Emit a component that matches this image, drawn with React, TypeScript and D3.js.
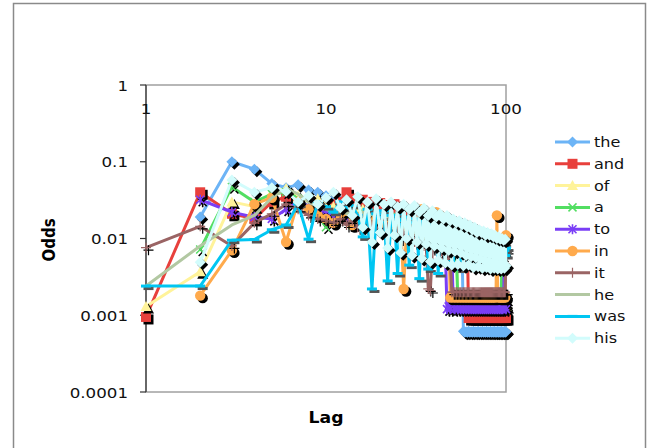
import React from "react";
import * as d3 from "d3";

// ---- data (lag 1..100, odds; null = no value) ----
const SERIES_NAMES = ["the", "and", "of", "a", "to", "in", "it", "he", "was", "his"];
const Y_TICKS = [1, 0.1, 0.01, 0.001, 0.0001];
const Y_TICK_LABELS = ["1", "0.1", "0.01", "0.001", "0.0001"];
const X_TICKS = [1, 10, 100];
const X_TICK_LABELS = ["1", "10", "100"];

const the = [
  null, 0.019, 0.10, 0.080, 0.052, 0.046, 0.050, 0.043, 0.040, 0.036,
  0.034, 0.031, 0.033, 0.029, 0.028, 0.029, 0.026, 0.025, 0.026, 0.023,
  0.022, 0.023, 0.021, 0.020, 0.021, 0.019, 0.018, 0.019, 0.017, 0.018,
  0.016, 0.017, 0.015, 0.016, 0.014, 0.015, 0.014, 0.013, 0.014, 0.013,
  0.012, 0.013, 0.012, 0.011, 0.012, 0.011, 0.010, 0.011, 0.010, 0.0105,
  0.0095, 0.010, 0.009, 0.0095, 0.0085, 0.009, 0.0085, 0.00062, 0.0006, 0.00061,
  0.0006, 0.00062, 0.0006, 0.00061, 0.0006, 0.00062, 0.0006, 0.00061, 0.0006, 0.00062,
  0.0006, 0.00061, 0.0006, 0.00062, 0.0006, 0.00061, 0.0006, 0.00062, 0.0006, 0.00061,
  0.0006, 0.00062, 0.0006, 0.00061, 0.0006, 0.00062, 0.0006, 0.00061, 0.0006, 0.00062,
  0.0006, 0.00061, 0.0006, 0.00062, 0.0006, 0.00061, 0.0006, 0.00062, 0.0006, 0.00061,
];
const and = [
  0.00095, 0.040, 0.021, 0.018, 0.030, 0.035, 0.031, 0.028, 0.027, 0.025,
  0.028, 0.030, 0.040, 0.033, 0.031, 0.032, 0.030, 0.029, 0.028, 0.029,
  0.027, 0.026, 0.027, 0.028, 0.025, 0.024, 0.022, 0.021, 0.022, 0.020,
  0.019, 0.020, 0.018, 0.019, 0.017, 0.018, 0.016, 0.017, 0.016, 0.015,
  0.015, 0.014, 0.014, 0.013, 0.014, 0.013, 0.012, 0.013, 0.012, 0.012,
  0.011, 0.012, 0.011, 0.010, 0.011, 0.010, 0.0105, 0.010, 0.0095, 0.010,
  0.009, 0.00092, 0.00093, 0.00092, 0.00094, 0.00092, 0.00093, 0.00092, 0.00094, 0.00092,
  0.00093, 0.00092, 0.00094, 0.00092, 0.00093, 0.00092, 0.00094, 0.00092, 0.00093, 0.00092,
  0.00094, 0.00092, 0.00093, 0.00092, 0.00094, 0.00092, 0.00093, 0.00092, 0.00094, 0.00092,
  0.00093, 0.00092, 0.00094, 0.00092, 0.00093, 0.00092, 0.00094, 0.00092, 0.00093, 0.00092,
];
const of = [
  0.0013, 0.0037, 0.030, 0.026, 0.040, 0.045, 0.036, 0.031, 0.033, 0.028,
  0.026, 0.027, 0.024, 0.025, 0.023, 0.024, 0.022, 0.021, 0.022, 0.020,
  0.021, 0.019, 0.020, 0.018, 0.019, 0.017, 0.018, 0.016, 0.017, 0.015,
  0.016, 0.015, 0.014, 0.015, 0.013, 0.014, 0.013, 0.012, 0.013, 0.012,
  0.011, 0.012, 0.011, 0.010, 0.011, 0.010, 0.0095, 0.010, 0.009, 0.0095,
  0.009, 0.0085, 0.009, 0.0013, 0.0014, 0.0013, 0.0014, 0.0013, 0.0014, 0.0013,
  0.0014, 0.0013, 0.0014, 0.0013, 0.0014, 0.0013, 0.0014, 0.0013, 0.0014, 0.0013,
  0.0014, 0.0013, 0.0014, 0.0013, 0.0014, 0.0013, 0.0014, 0.0013, 0.0014, 0.0013,
  0.0014, 0.0013, 0.0014, 0.0013, 0.0014, 0.0013, 0.0014, 0.0013, 0.0014, 0.0013,
  0.0014, 0.0013, 0.0014, 0.0013, 0.0014, 0.0013, 0.0014, 0.0013, 0.0014, 0.0013,
];
const a = [
  null, 0.0072, 0.047, 0.030, 0.038, 0.040, 0.033, 0.026, 0.022, 0.014,
  0.020, 0.018, 0.024, 0.015, 0.021, 0.019, 0.016, 0.022, 0.014, 0.018,
  0.017, 0.015, 0.019, 0.013, 0.016, 0.014, 0.012, 0.015, 0.011, 0.013,
  0.012, 0.010, 0.013, 0.011, 0.009, 0.012, 0.010, 0.011, 0.008, 0.010,
  0.009, 0.010, 0.0085, 0.009, 0.008, 0.0095, 0.0075, 0.0085, 0.008, 0.007,
  0.0075, 0.007, 0.0065, 0.0016, 0.0015, 0.0016, 0.0015, 0.0016, 0.0015, 0.0016,
  0.0015, 0.0016, 0.0015, 0.0016, 0.0015, 0.0016, 0.0015, 0.0016, 0.0015, 0.0016,
  0.0015, 0.0016, 0.0015, 0.0016, 0.0015, 0.0016, 0.0015, 0.0016, 0.0015, 0.0016,
  0.0015, 0.0016, 0.0015, 0.0016, 0.0015, 0.0016, 0.0015, 0.0016, 0.0015, 0.0016,
  0.0015, 0.0016, 0.0015, 0.0016, 0.0060, 0.0016, 0.0015, 0.0016, 0.0015, 0.0016,
];
const to = [
  null, 0.032, 0.022, 0.019, 0.018, 0.024, 0.030, 0.026, 0.021, 0.023,
  0.019, 0.021, 0.018, 0.020, 0.017, 0.019, 0.022, 0.016, 0.018, 0.015,
  0.017, 0.014, 0.016, 0.018, 0.013, 0.015, 0.017, 0.012, 0.014, 0.013,
  0.012, 0.014, 0.011, 0.013, 0.010, 0.012, 0.011, 0.009, 0.011, 0.010,
  0.009, 0.011, 0.008, 0.010, 0.0085, 0.0075, 0.0012, 0.0013, 0.0012, 0.0070,
  0.0013, 0.0012, 0.0013, 0.0012, 0.0013, 0.0012, 0.0013, 0.0012, 0.0013, 0.0012,
  0.0013, 0.0012, 0.0013, 0.0012, 0.0013, 0.0012, 0.0013, 0.0012, 0.0013, 0.0012,
  0.0013, 0.0012, 0.0013, 0.0012, 0.0013, 0.0012, 0.0013, 0.0012, 0.0013, 0.0012,
  0.0013, 0.0012, 0.0013, 0.0012, 0.0013, 0.0012, 0.0013, 0.0012, 0.0013, 0.0012,
  0.0013, 0.0012, 0.0013, 0.0012, 0.0013, 0.0012, 0.0013, 0.0070, 0.0013, 0.0012,
];
const inn = [
  null, 0.0018, 0.0070, 0.028, 0.034, 0.0090, 0.030, 0.024, 0.020, 0.018,
  0.016, 0.021, 0.023, 0.015, 0.019, 0.017, 0.022, 0.014, 0.018, 0.020,
  0.016, 0.019, 0.015, 0.018, 0.014, 0.017, 0.0022, 0.013, 0.016, 0.014,
  0.015, 0.013, 0.017, 0.024, 0.014, 0.012, 0.015, 0.013, 0.011, 0.014,
  0.022, 0.013, 0.020, 0.012, 0.011, 0.013, 0.010, 0.012, 0.0017, 0.0018,
  0.0017, 0.0018, 0.0017, 0.0018, 0.0017, 0.0018, 0.0017, 0.0018, 0.0017, 0.0018,
  0.0017, 0.0018, 0.0017, 0.0018, 0.0017, 0.0018, 0.0017, 0.0018, 0.0017, 0.0018,
  0.0017, 0.0018, 0.0017, 0.0018, 0.0017, 0.0018, 0.0017, 0.0018, 0.0017, 0.0018,
  0.0017, 0.0018, 0.0017, 0.0018, 0.0017, 0.0018, 0.0017, 0.0018, 0.020, 0.0018,
  0.0017, 0.0018, 0.0017, 0.0018, 0.0017, 0.0018, 0.0017, 0.0018, 0.0017, 0.011,
];
const it = [
  0.0076, 0.0144, 0.0080, 0.016, 0.021, 0.028, 0.024, 0.020, 0.018, 0.017,
  0.016, 0.018, 0.015, 0.017, 0.014, 0.016, 0.013, 0.015, 0.014, 0.012,
  0.013, 0.014, 0.012, 0.011, 0.013, 0.010, 0.012, 0.011, 0.0095, 0.010,
  0.009, 0.011, 0.0085, 0.0095, 0.008, 0.009, 0.0022, 0.0021, 0.0075, 0.008,
  0.007, 0.0075, 0.0065, 0.007, 0.006, 0.0065, 0.0055, 0.006, 0.0052, 0.0020,
  0.0020, 0.0020, 0.0020, 0.0020, 0.0020, 0.0020, 0.0020, 0.0020, 0.0020, 0.0020,
  0.0020, 0.0020, 0.0020, 0.0020, 0.0020, 0.0020, 0.0020, 0.0020, 0.0020, 0.0020,
  0.0020, 0.0020, 0.0020, 0.0020, 0.0020, 0.0020, 0.0020, 0.0020, 0.0020, 0.0020,
  0.0020, 0.0020, 0.0020, 0.0020, 0.0020, 0.0020, 0.0020, 0.0020, 0.0020, 0.0020,
  0.0020, 0.0020, 0.0020, 0.0020, 0.0020, 0.0020, 0.0020, 0.0020, 0.0020, 0.0068,
];
const he = [
  0.0024, 0.0080, 0.015, 0.020, 0.034, 0.045, 0.038, 0.030, 0.026, 0.024,
  0.022, 0.024, 0.021, 0.023, 0.020, 0.022, 0.019, 0.021, 0.018, 0.020,
  0.017, 0.019, 0.016, 0.018, 0.015, 0.017, 0.014, 0.016, 0.013, 0.015,
  0.012, 0.014, 0.011, 0.013, 0.010, 0.012, 0.0095, 0.011, 0.009, 0.010,
  0.0085, 0.0095, 0.008, 0.009, 0.0075, 0.0085, 0.007, 0.008, 0.0068, 0.0075,
  0.0065, 0.0072, 0.0062, 0.0068, 0.0060, 0.0066, 0.0058, 0.0063, 0.0057, 0.0061,
  0.0055, 0.0059, 0.0054, 0.0058, 0.0052, 0.0056, 0.0051, 0.0055, 0.0050, 0.0053,
  0.0049, 0.0052, 0.0048, 0.0051, 0.0047, 0.0050, 0.0046, 0.0049, 0.0045, 0.0048,
  0.0044, 0.0047, 0.0043, 0.0046, 0.0042, 0.0045, 0.0041, 0.0044, 0.0040, 0.0043,
  0.0039, 0.0042, 0.0038, 0.0041, 0.0037, 0.0040, 0.0036, 0.0039, 0.0035, 0.0038,
];
const was = [
  0.0024, 0.0024, 0.0095, 0.0097, 0.013, 0.015, 0.028, 0.0098, 0.030, 0.026,
  0.022, 0.030, 0.025, 0.027, 0.020, 0.0105, 0.024, 0.0022, 0.021, 0.019,
  0.023, 0.0028, 0.020, 0.018, 0.0035, 0.021, 0.017, 0.019, 0.0045, 0.016,
  0.018, 0.015, 0.0030, 0.017, 0.014, 0.016, 0.0040, 0.013, 0.015, 0.012,
  0.014, 0.0035, 0.013, 0.011, 0.012, 0.0050, 0.011, 0.013, 0.010, 0.012,
  0.0045, 0.011, 0.009, 0.012, 0.010, 0.0040, 0.011, 0.0095, 0.010, 0.0055,
  0.0095, 0.011, 0.0085, 0.0050, 0.010, 0.009, 0.0095, 0.0045, 0.009, 0.0085,
  0.0095, 0.0060, 0.008, 0.009, 0.0085, 0.0050, 0.0095, 0.008, 0.0085, 0.0055,
  0.008, 0.009, 0.0075, 0.0085, 0.0050, 0.008, 0.0075, 0.009, 0.0060, 0.008,
  0.0085, 0.0070, 0.0055, 0.008, 0.0075, 0.0065, 0.0085, 0.007, 0.0060, 0.0075,
];
const his = [
  null, 0.0049, 0.058, 0.040, 0.046, 0.041, 0.030, 0.036, 0.028, 0.034,
  0.040, 0.025, 0.032, 0.020, 0.035, 0.014, 0.030, 0.009, 0.033, 0.012,
  0.028, 0.0075, 0.030, 0.011, 0.026, 0.0065, 0.028, 0.010, 0.024, 0.0060,
  0.027, 0.009, 0.022, 0.0055, 0.025, 0.0085, 0.020, 0.005, 0.023, 0.008,
  0.019, 0.0052, 0.021, 0.0075, 0.018, 0.0048, 0.020, 0.007, 0.017, 0.0045,
  0.018, 0.0068, 0.016, 0.0046, 0.017, 0.0065, 0.015, 0.0044, 0.016, 0.006,
  0.014, 0.0045, 0.015, 0.0058, 0.013, 0.0042, 0.014, 0.0056, 0.012, 0.0043,
  0.013, 0.0054, 0.012, 0.0041, 0.0125, 0.0052, 0.011, 0.0042, 0.012, 0.005,
  0.011, 0.0040, 0.0115, 0.0048, 0.0105, 0.0041, 0.011, 0.0047, 0.010, 0.0040,
  0.0105, 0.0046, 0.0098, 0.0040, 0.010, 0.0045, 0.0095, 0.0041, 0.0098, 0.0044,
];

const SERIES_VALUES = [the, and, of, a, to, inn, it, he, was, his];
const COLORS = ["#6cb4f6", "#e8403c", "#fff39a", "#52de62", "#7a3ef6", "#ffaa4c", "#9a6464", "#b2c8a2", "#00c6f2", "#d2fcfc"];
const MARKERS = ["diamond", "square", "triangle", "x", "star", "circle", "plus", "none", "dash", "diamond"];

const W = 647, H = 448;
const PL = 146, PR = 506, PT = 85, PB = 392;
const FONT = "'DejaVu Sans', Verdana, sans-serif";
const SX = 1.15;

function Marker({ type, x, y, color, shadow }: { type: string; x: number; y: number; color: string; shadow?: boolean }) {
  const c = shadow ? "#000" : color;
  const dx = shadow ? 2.5 : 0, dy = shadow ? 2.5 : 0;
  const X = x + dx, Y = y + dy;
  switch (type) {
    case "diamond":
      return <path d={`M${X},${Y - 5.5}L${X + 5.5},${Y}L${X},${Y + 5.5}L${X - 5.5},${Y}Z`} fill={c} />;
    case "square":
      return <rect x={X - 5} y={Y - 5} width={10} height={10} fill={c} />;
    case "triangle":
      return <path d={`M${X},${Y - 5.5}L${X + 5.5},${Y + 4.5}L${X - 5.5},${Y + 4.5}Z`} fill={c} />;
    case "circle":
      return <circle cx={X} cy={Y} r={5.2} fill={c} />;
    case "x":
      return <path d={`M${X - 4},${Y - 4}L${X + 4},${Y + 4}M${X - 4},${Y + 4}L${X + 4},${Y - 4}`} stroke={c} strokeWidth={1.5} />;
    case "star":
      return <path d={`M${X - 4},${Y - 4}L${X + 4},${Y + 4}M${X - 4},${Y + 4}L${X + 4},${Y - 4}M${X},${Y - 5}L${X},${Y + 5}`} stroke={c} strokeWidth={1.6} />;
    case "plus":
      return <path d={`M${X - 5},${Y}L${X + 5},${Y}M${X},${Y - 5}L${X},${Y + 5}`} stroke={c} strokeWidth={1.2} />;
    case "dash":
      return <rect x={X - 5} y={Y - 1.5} width={10} height={3} fill={shadow ? "#555" : c} />;
    default:
      return null;
  }
}

export default function App() {
  const x = d3.scaleLog().domain([1, 100]).range([PL, PR]);
  const y = d3.scaleLog().domain([0.0001, 1]).range([PB, PT]);
  const lags = d3.range(1, 101);

  const line = d3
    .line<[number, number | null]>()
    .defined((d) => d[1] != null)
    .x((d) => x(d[0]))
    .y((d) => y(d[1] as number));

  const legendY0 = 142, legendStep = 21.8;

  return (
    <div style={{ position: "absolute", left: 0, top: 0 }}>
      <svg width={W} height={H} style={{ display: "block", background: "#fff" }}>
        <rect x={13.5} y={3.5} width={632} height={470} fill="#fff" stroke="#8a8a8a" strokeWidth={1.5} />
        {/* plot border */}
        <rect x={PL} y={PT} width={PR - PL} height={PB - PT} fill="none" stroke="#a0a0a0" strokeWidth={1.5} />
        <line x1={PL} x2={PL} y1={PT} y2={PB} stroke="#333" strokeWidth={1.2} />
        {Y_TICKS.map((t, i) => (
          <g key={"yt" + i}>
            <line x1={PL - 6} x2={PL} y1={y(t)} y2={y(t)} stroke="#333" strokeWidth={1.2} />
            <text transform={`translate(128,${y(t) + 5.5}) scale(${SX},1)`} textAnchor="end" fontFamily={FONT} fontSize={14.5} fill="#111">
              {Y_TICK_LABELS[i]}
            </text>
          </g>
        ))}
        {X_TICKS.map((t, i) => (
          <text key={"xt" + i} transform={`translate(${x(t)},114) scale(${SX},1)`} textAnchor="middle" fontFamily={FONT} fontSize={14.5} fill="#111">
            {X_TICK_LABELS[i]}
          </text>
        ))}
        {/* series */}
        {SERIES_VALUES.map((vals, si) => {
          const pts = lags.map((l, i) => [l, vals[i]] as [number, number | null]);
          const valid = pts.filter((p) => p[1] != null) as [number, number][];
          return (
            <g key={"s" + si}>
              <path d={line(pts) || ""} fill="none" stroke={COLORS[si]} strokeWidth={3} strokeLinejoin="round" />
              {MARKERS[si] !== "none" &&
                valid.map((p, i) => (
                  <Marker key={"sh" + i} type={MARKERS[si]} x={x(p[0])} y={y(p[1])} color={COLORS[si]} shadow />
                ))}
              {MARKERS[si] !== "none" &&
                valid.map((p, i) => (
                  <Marker key={"m" + i} type={MARKERS[si]} x={x(p[0])} y={y(p[1])} color={COLORS[si]} />
                ))}
            </g>
          );
        })}
        {/* axis titles */}
        <text transform={`translate(${(PL + PR) / 2},423) scale(${SX},1)`} textAnchor="middle" fontFamily={FONT} fontWeight="bold" fontSize={15} fill="#000">
          Lag
        </text>
        <text transform={`translate(55,240) scale(${SX},1) rotate(-90)`} textAnchor="middle" fontFamily={FONT} fontWeight="bold" fontSize={15} fill="#000">
          Odds
        </text>
        {/* legend */}
        {SERIES_NAMES.map((n, i) => {
          const ly = legendY0 + i * legendStep;
          return (
            <g key={"lg" + i}>
              <line x1={555} x2={590} y1={ly} y2={ly} stroke={COLORS[i]} strokeWidth={3} />
              <Marker type={MARKERS[i]} x={572.5} y={ly} color={COLORS[i]} />
              <text transform={`translate(594,${ly + 5}) scale(${SX},1)`} fontFamily={FONT} fontSize={14} fill="#111">
                {n}
              </text>
            </g>
          );
        })}
      </svg>
    </div>
  );
}
